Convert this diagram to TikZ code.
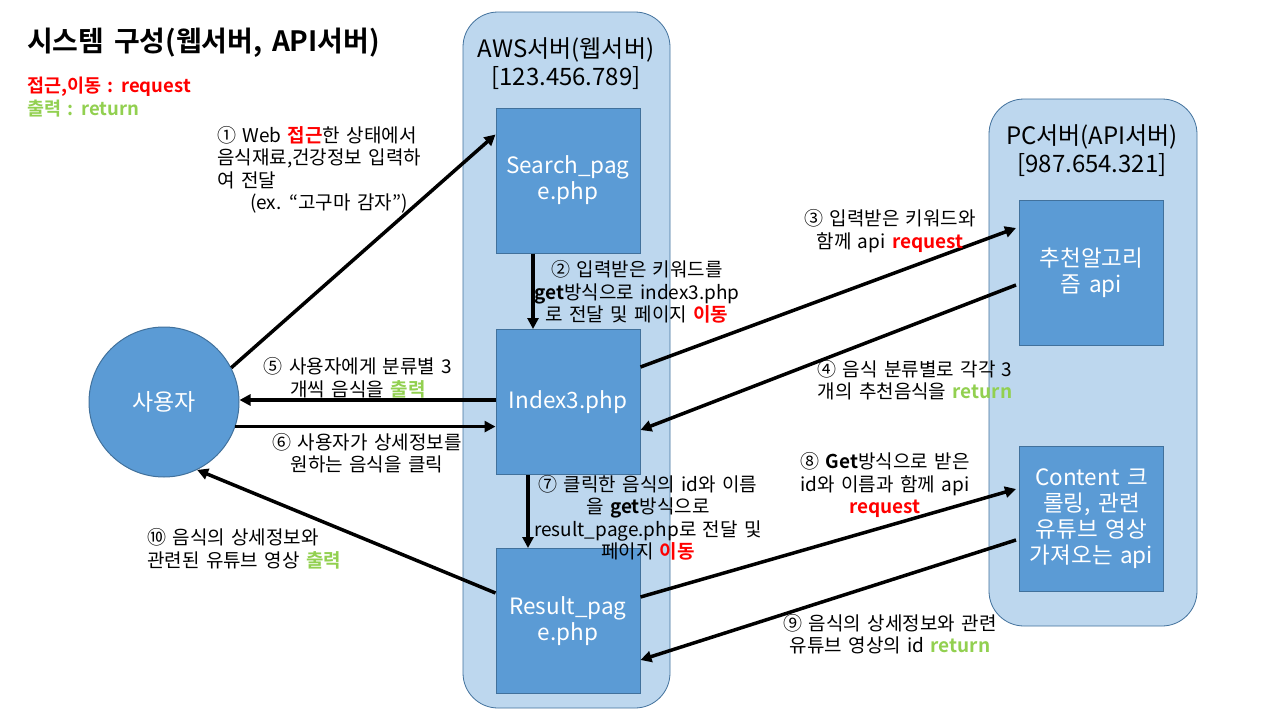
\documentclass[tikz,border=0pt]{standalone}
\usepackage{fontspec}
\setmainfont{Noto Sans CJK KR}[BoldFont={Noto Sans CJK KR Bold},WordSpace=1.5]
\usetikzlibrary{arrows.meta}
\definecolor{lb}{HTML}{BDD7EE}
\definecolor{mb}{HTML}{5B9BD5}
\definecolor{db}{HTML}{41719C}
\definecolor{rq}{HTML}{FF0000}
\definecolor{rt}{HTML}{92D050}
\newcommand{\myreq}[1]{\textbf{\color{rq}#1}}
\newcommand{\myret}[1]{\textbf{\color{rt}#1}}
\begin{document}
\begin{tikzpicture}[x=1pt,y=-1pt,
  arr/.style={line width=3.5pt,-{Triangle[length=11pt,width=11pt]}},
  pg/.style={draw=db,line width=1pt,fill=mb,minimum width=144pt,minimum height=145pt,text=white,font=\fontsize{22.5pt}{26pt}\selectfont,align=center,inner sep=0pt},
  lbl/.style={font=\fontsize{19pt}{22.5pt}\selectfont,align=center,inner sep=0pt},
  ttl/.style={font=\fontsize{24pt}{28pt}\selectfont,inner sep=0pt},
  cont/.style={draw=db,line width=0.8pt,fill=lb,rounded corners=35pt,inner sep=0pt}]
\useasboundingbox (0,0) rectangle (1280,720);
\fill[white] (0,0) rectangle (1280,720);
% containers
\node[cont,minimum width=207pt,minimum height=696pt] (aws) at (566.5,360) {};
\node[cont,minimum width=208pt,minimum height=527pt] (pc) at (1093,362.5) {};
\node[ttl] (awst) at (566,50) {AWS서버(웹서버)};
\node[ttl] (awsip) at (566,78) {[123.456.789]};
\node[ttl] (pct) at (1092,137) {PC서버(API서버)};
\node[ttl] (pcip) at (1092,165) {[987.654.321]};
% pages
\node[pg] (search) at (568,180.5) {Search\_pag\\e.php};
\node[pg] (index) at (568,402) {Index3.php};
\node[pg] (result) at (568,621) {Result\_pag\\e.php};
\node[pg] (algo) at (1091.5,272.5) {추천알고리\\즘 api};
\node[pg] (content) at (1091.5,519) {Content 크\\롤링, 관련\\유튜브 영상\\가져오는 api};
\node[circle,draw=db,line width=1pt,fill=mb,minimum size=150pt,inner sep=0pt,text=white,font=\fontsize{23pt}{27pt}\selectfont] (user) at (164,402) {사용자};
% title and legend
\node[anchor=west,inner sep=0pt,font=\fontsize{28pt}{33pt}\selectfont\bfseries] (title) at (27,43) {시스템 구성(웹서버, API서버)};
\node[anchor=west,inner sep=0pt,font=\fontsize{18.5pt}{22pt}\selectfont\bfseries,text=rq] (leg1) at (27,87) {접근,이동 : request};
\node[anchor=west,inner sep=0pt,font=\fontsize{18.5pt}{22pt}\selectfont\bfseries,text=rt] (leg2) at (27,109) {출력 : return};
% arrows
\draw[arr] (user.27) -- ([yshift=-27pt]search.north west);
\draw[arr] ([xshift=-35pt]search.south) -- ([xshift=-35pt]index.north);
\draw[arr] ([yshift=35pt]index.east) -- ([xshift=-3pt,yshift=44.5pt]algo.west);
\draw[arr] ([xshift=-3pt,yshift=-12.5pt]algo.west) -- ([yshift=-28pt]index.east);
\draw[arr] ([yshift=2pt]index.west) -- ([yshift=2pt]user.east);
\draw[arr] (user.-19) -- (index.west |- user.-19);
\draw[arr] ([xshift=-40pt]index.south) -- ([xshift=-40pt]result.north);
\draw[arr] ([yshift=24pt]result.east) -- ([xshift=-3pt,yshift=30pt]content.west);
\draw[arr] ([xshift=-3pt,yshift=-21pt]content.west) -- ([yshift=-39pt]result.east);
\draw[arr] ([yshift=28pt]result.west) -- (user.-64);
% labels
\node[lbl,anchor=west,align=left] (l1) at (217,170) {① Web \myreq{접근}한 상태에서\\음식재료,건강정보 입력하\\여 전달\\\hspace*{33pt}(ex. “고구마 감자”)};
\node[lbl] (l2) at (637,292) {② 입력받은 키워드를\\\textbf{get}방식으로 index3.php\\로 전달 및 페이지 \myreq{이동}};
\node[lbl] (l3) at (890,231) {③ 입력받은 키워드와\\함께 api \myreq{request}};
\node[lbl] (l4) at (915,380) {④ 음식 분류별로 각각 3\\개의 추천음식을 \myret{return}};
\node[lbl] (l5) at (358,378) {⑤ 사용자에게 분류별 3\\개씩 음식을 \myret{출력}};
\node[lbl] (l6) at (367,453) {⑥ 사용자가 상세정보를\\원하는 음식을 클릭};
\node[lbl] (l7) at (648,518) {⑦ 클릭한 음식의 id와 이름\\을 \textbf{get}방식으로\\result\_page.php로 전달 및\\페이지 \myreq{이동}};
\node[lbl] (l8) at (885,485) {⑧ \textbf{Get}방식으로 받은\\id와 이름과 함께 api\\\myreq{request}};
\node[lbl] (l9) at (890,634) {⑨ 음식의 상세정보와 관련\\유튜브 영상의 id \myret{return}};
\node[lbl,anchor=west,align=left] (l10) at (147,549) {⑩ 음식의 상세정보와\\관련된 유튜브 영상 \myret{출력}};
\end{tikzpicture}
\end{document}
